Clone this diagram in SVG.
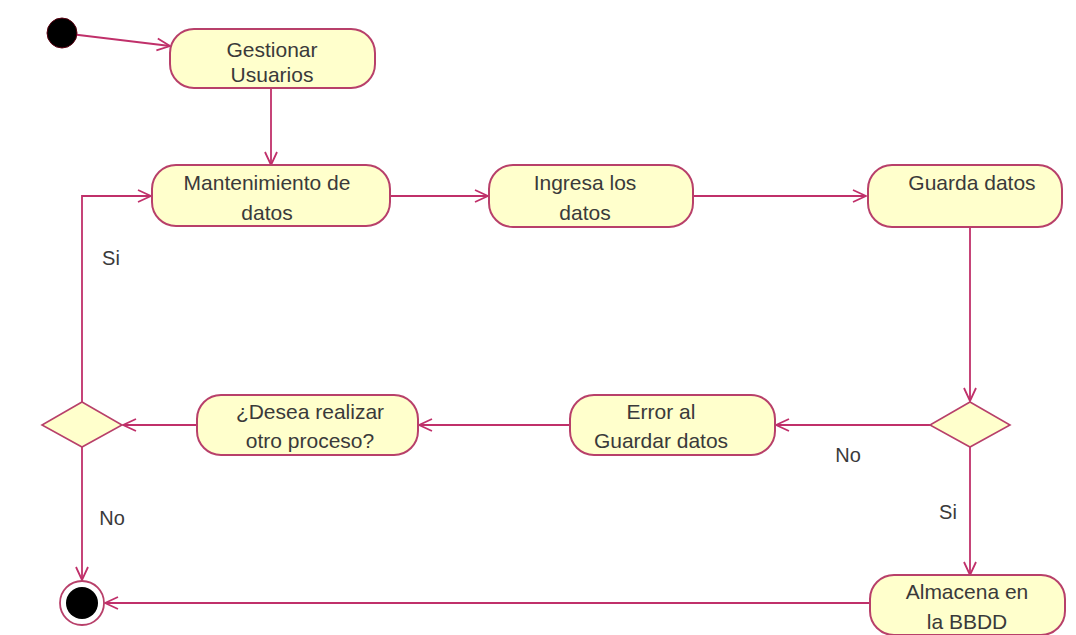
<svg xmlns="http://www.w3.org/2000/svg" width="1076" height="635" viewBox="0 0 1076 635">
<style>
.act{fill:#FFFFCC;stroke:#B8406A;stroke-width:2}
.dec{fill:#FFFFCC;stroke:#B8406A;stroke-width:1.6}
.t{font-family:"Liberation Sans",Arial,sans-serif;font-size:21px;fill:#3a3a3a;text-anchor:middle}
.lbl{font-family:"Liberation Sans",Arial,sans-serif;font-size:20px;fill:#3a3a3a;text-anchor:middle}
.c{fill:none;stroke:#C0306A;stroke-width:1.8}
</style>
<defs>
<marker id="arr" markerUnits="userSpaceOnUse" markerWidth="16" markerHeight="16" refX="14" refY="8" orient="auto">
<path d="M1,2 L14,8 L1,14" fill="none" stroke="#C0306A" stroke-width="1.8"/>
</marker>
</defs>
<rect width="1076" height="635" fill="#ffffff"/>
<g id="connectors">
<path class="c" d="M62,33 L170,46" marker-end="url(#arr)"/>
<path class="c" d="M271,88 L271,165" marker-end="url(#arr)"/>
<path class="c" d="M390,196 L488,196" marker-end="url(#arr)"/>
<path class="c" d="M693,196 L866,196" marker-end="url(#arr)"/>
<path class="c" d="M970,227 L970,401" marker-end="url(#arr)"/>
<path class="c" d="M930,425 L776,425" marker-end="url(#arr)"/>
<path class="c" d="M570,425 L419,425" marker-end="url(#arr)"/>
<path class="c" d="M197,425 L123,425" marker-end="url(#arr)"/>
<path class="c" d="M82,402 L82,196 L151,196" marker-end="url(#arr)"/>
<path class="c" d="M82,447 L82,580" marker-end="url(#arr)"/>
<path class="c" d="M970,447 L970,575" marker-end="url(#arr)"/>
<path class="c" d="M870,603 L105,603" marker-end="url(#arr)"/>
<text class="lbl" x="111" y="265">Si</text>
<text class="lbl" x="848" y="462">No</text>
<text class="lbl" x="112" y="525">No</text>
<text class="lbl" x="948" y="519">Si</text>
</g>
<g id="start"><circle cx="62" cy="33" r="15" fill="#000000" stroke="#5a0010" stroke-width="1"/></g>
<g id="gestionar">
<rect class="act" x="170" y="29" width="205" height="59" rx="24" ry="24"/>
<text class="t" x="272" y="57">Gestionar</text>
<text class="t" x="272" y="82">Usuarios</text>
</g>
<g id="mantenimiento">
<rect class="act" x="152" y="165" width="238" height="61" rx="24" ry="24"/>
<text class="t" x="267" y="190">Mantenimiento de</text>
<text class="t" x="267" y="220">datos</text>
</g>
<g id="ingresa">
<rect class="act" x="489" y="165" width="204" height="62" rx="24" ry="24"/>
<text class="t" x="585" y="190">Ingresa los</text>
<text class="t" x="585" y="220">datos</text>
</g>
<g id="guarda">
<rect class="act" x="868" y="165" width="194" height="62" rx="24" ry="24"/>
<text class="t" x="972" y="190">Guarda datos</text>
</g>
<g id="decision-right">
<polygon class="dec" points="970,402 1010,425 970,447 930,425"/>
</g>
<g id="error">
<rect class="act" x="570" y="395" width="205" height="60" rx="24" ry="24"/>
<text class="t" x="661" y="419">Error al</text>
<text class="t" x="661" y="448">Guardar datos</text>
</g>
<g id="desea">
<rect class="act" x="197" y="395" width="221" height="60" rx="24" ry="24"/>
<text class="t" x="310" y="419">¿Desea realizar</text>
<text class="t" x="310" y="448">otro proceso?</text>
</g>
<g id="decision-left">
<polygon class="dec" points="82,402 122,425 82,447 42,425"/>
</g>
<g id="almacena">
<rect class="act" x="870" y="575" width="195" height="60" rx="24" ry="24"/>
<text class="t" x="967" y="599">Almacena en</text>
<text class="t" x="967" y="629">la BBDD</text>
</g>
<g id="end">
<circle cx="82" cy="603" r="22" fill="#ffffff" stroke="#B8406A" stroke-width="1.8"/>
<circle cx="82" cy="603" r="16" fill="#000000"/>
</g>
</svg>
